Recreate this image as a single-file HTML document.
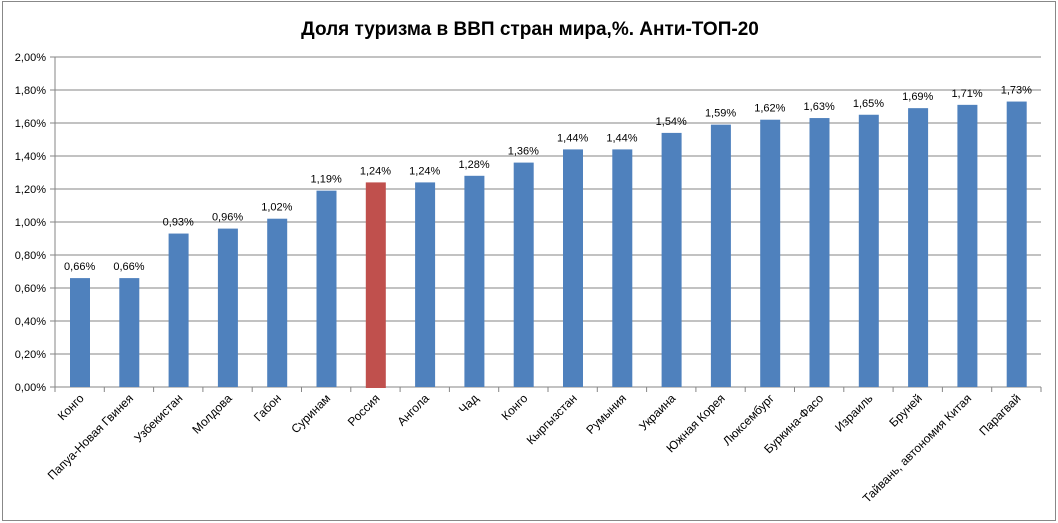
<!DOCTYPE html>
<html><head><meta charset="utf-8"><style>
html,body{margin:0;padding:0;background:#fff}
svg{display:block;font-family:"Liberation Sans","DejaVu Sans",sans-serif}
</style></head><body>
<svg width="1058" height="523" viewBox="0 0 1058 523">
<rect x="2.5" y="1.5" width="1053" height="519" fill="#fff" stroke="#888" stroke-width="1"/>
<text x="530" y="35" text-anchor="middle" font-size="19" font-weight="bold" fill="#000">Доля туризма  в ВВП стран мира,%. Анти-ТОП-20</text>
<g id="g"></g>
</svg>
<script>
const vals=[0.66,0.66,0.93,0.96,1.02,1.19,1.24,1.24,1.28,1.36,1.44,1.44,1.54,1.59,1.62,1.63,1.65,1.69,1.71,1.73];
const names=["Конго","Папуа-Новая Гвинея","Узбекистан","Молдова","Габон","Суринам","Россия","Ангола","Чад","Конго","Кыргызстан","Румыния","Украина","Южная Корея","Люксембург","Буркина-Фасо","Израиль","Бруней","Тайвань, автономия Китая","Парагвай"];
const L=55,R=1041,T=57,B=387,cw=(R-L)/20;
let s='';
for(let i=0;i<=10;i++){const y=B-(B-T)*i/10;
 s+=`<line x1="${L-5}" y1="${y}" x2="${R}" y2="${y}" stroke="#868686"/>`;
 s+=`<text x="${L-9}" y="${y+4}" text-anchor="end" font-size="11">${(i*0.2).toFixed(2).replace('.',',')}%</text>`;}
s+=`<line x1="${L}" y1="${T}" x2="${L}" y2="${B}" stroke="#868686"/>`;
for(let i=0;i<=20;i++){const x=L+cw*i;s+=`<line x1="${x}" y1="${B}" x2="${x}" y2="${B+5}" stroke="#868686"/>`;}
vals.forEach((v,i)=>{const x=L+cw*i+15,h=v*(B-T)/2,c=L+cw*i+cw/2;
 s+=`<rect x="${x}" y="${B-h}" width="20" height="${h+(i==6?1:0)}" fill="${i==6?'#c0504d':'#4f81bd'}"/>`;
 s+=`<text x="${c}" y="${B-h-8}" text-anchor="middle" font-size="11">${v.toFixed(2).replace('.',',')}%</text>`;
 s+=`<text transform="translate(${c+5},${B+12}) rotate(-45)" text-anchor="end" font-size="12">${names[i]}</text>`;});
document.getElementById('g').innerHTML=s;
</script>
</body></html>
